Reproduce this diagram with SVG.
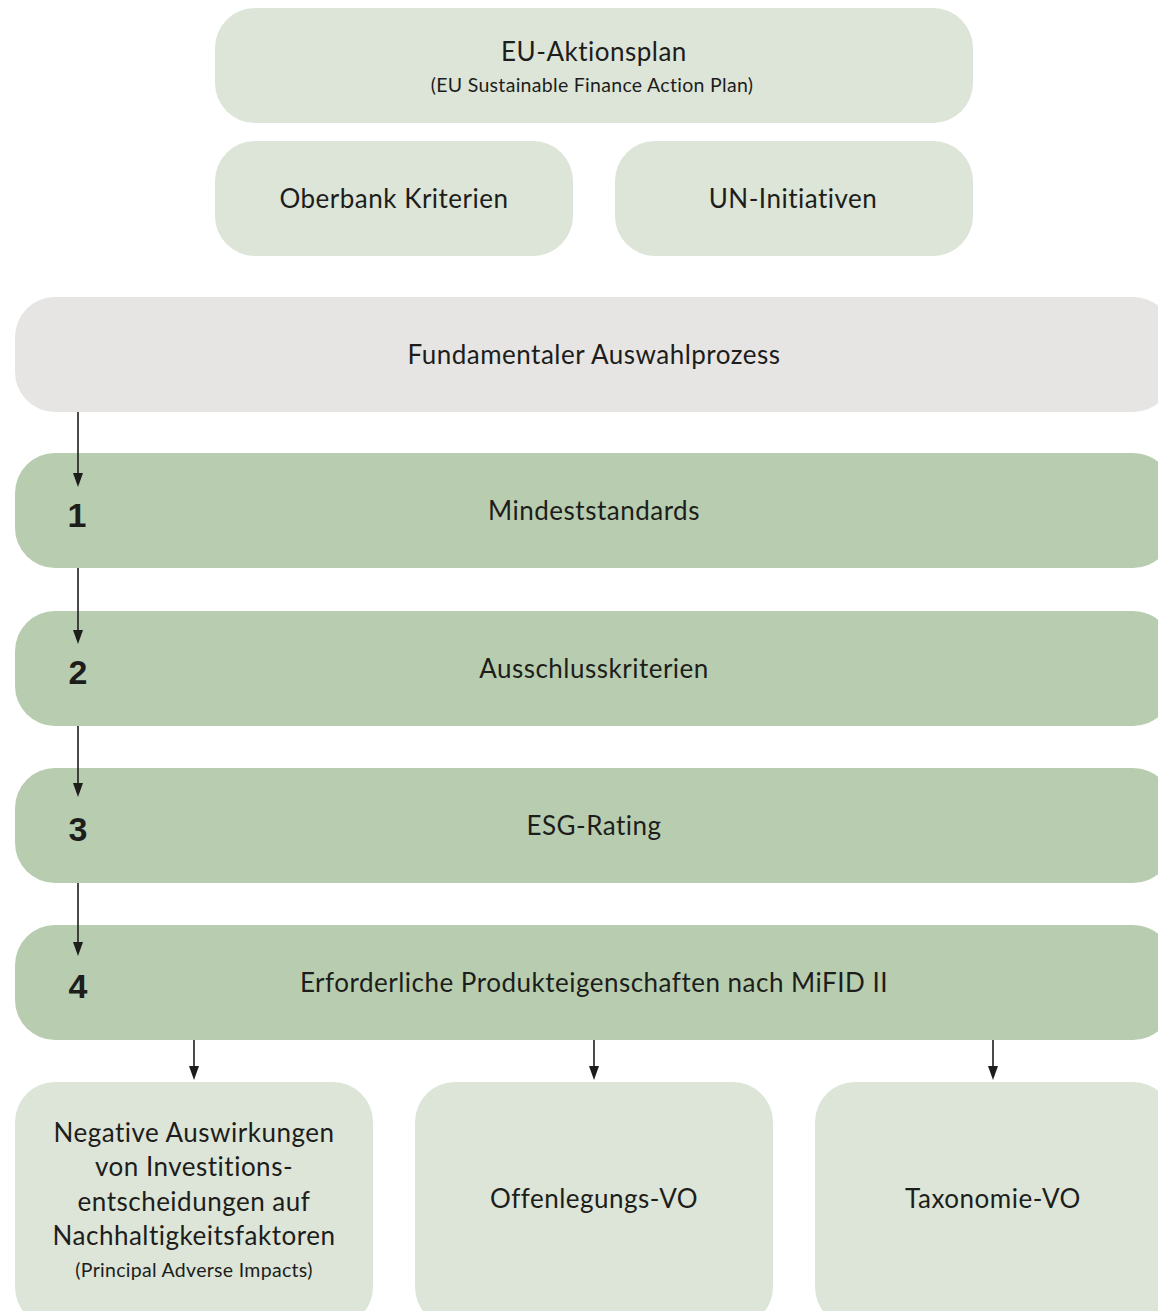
<svg xmlns="http://www.w3.org/2000/svg" width="1158" height="1311" viewBox="0 0 1158 1311">
<defs>
<style>
.lg{fill:#dce5d7}
.mg{fill:#b8cdb0}
.gr{fill:#e6e5e3}
text{font-family:Lato,"Open Sans","Liberation Sans",sans-serif;fill:#1d1d1b;text-anchor:middle;font-variant-ligatures:none}
.t{font-size:26px;letter-spacing:0.5px}
.s{font-size:19.5px;letter-spacing:0.3px}
.n{font-family:"Liberation Sans",Arial,sans-serif;font-weight:bold;font-size:34px;letter-spacing:0}
.c{stroke:#1d1d1b;stroke-width:1.6;fill:none}
.a{fill:#1d1d1b}
</style>
</defs>
<rect width="1158" height="1311" fill="#ffffff"/>
<g id="eu-aktionsplan"><rect class="lg" x="215" y="8" width="758" height="115" rx="40"/>
<text class="t" x="594" y="61">EU-Aktionsplan</text>
<text class="s" x="592" y="92">(EU Sustainable Finance Action Plan)</text></g>
<g id="oberbank"><rect class="lg" x="215" y="141" width="358" height="115" rx="40"/>
<text class="t" x="394" y="208">Oberbank Kriterien</text></g>
<g id="un"><rect class="lg" x="615" y="141" width="358" height="115" rx="40"/>
<text class="t" x="793" y="208">UN-Initiativen</text></g>
<g id="fundamental"><rect class="gr" x="15" y="297" width="1158" height="115" rx="40"/>
<text class="t" x="594" y="364">Fundamentaler Auswahlprozess</text></g>
<g id="step1"><rect class="mg" x="15" y="453" width="1158" height="115" rx="40"/>
<text class="n" x="77" y="527">1</text>
<text class="t" x="594" y="520">Mindeststandards</text></g>
<g id="step2"><rect class="mg" x="15" y="611" width="1158" height="115" rx="40"/>
<text class="n" x="78" y="684">2</text>
<text class="t" x="594" y="678">Ausschlusskriterien</text></g>
<g id="step3"><rect class="mg" x="15" y="768" width="1158" height="115" rx="40"/>
<text class="n" x="78" y="841">3</text>
<text class="t" x="594" y="835">ESG-Rating</text></g>
<g id="step4"><rect class="mg" x="15" y="925" width="1158" height="115" rx="40"/>
<text class="n" x="78" y="998">4</text>
<text class="t" x="594" y="992">Erforderliche Produkteigenschaften nach MiFID II</text></g>
<g id="pai"><rect class="lg" x="15" y="1082" width="358" height="245" rx="40"/>
<text class="t" x="194" y="1142">Negative Auswirkungen</text>
<text class="t" x="194" y="1176">von Investitions-</text>
<text class="t" x="194" y="1211">entscheidungen auf</text>
<text class="t" x="194" y="1245">Nachhaltigkeitsfaktoren</text>
<text class="s" x="194" y="1277">(Principal Adverse Impacts)</text></g>
<g id="offenlegung"><rect class="lg" x="415" y="1082" width="358" height="245" rx="40"/>
<text class="t" x="594" y="1208">Offenlegungs-VO</text></g>
<g id="taxonomie"><rect class="lg" x="815" y="1082" width="358" height="245" rx="40"/>
<text class="t" x="993" y="1208">Taxonomie-VO</text></g>
<g id="connectors">
<line class="c" x1="78" y1="412" x2="78" y2="474"/><path class="a" d="M73,473 L83,473 L78,487 Z"/>
<line class="c" x1="78" y1="568" x2="78" y2="631"/><path class="a" d="M73,630 L83,630 L78,644 Z"/>
<line class="c" x1="78" y1="726" x2="78" y2="784"/><path class="a" d="M73,783 L83,783 L78,797 Z"/>
<line class="c" x1="78" y1="883" x2="78" y2="943"/><path class="a" d="M73,942 L83,942 L78,956 Z"/>
<line class="c" x1="194" y1="1040" x2="194" y2="1067"/><path class="a" d="M189,1066 L199,1066 L194,1080 Z"/>
<line class="c" x1="594" y1="1040" x2="594" y2="1067"/><path class="a" d="M589,1066 L599,1066 L594,1080 Z"/>
<line class="c" x1="993" y1="1040" x2="993" y2="1067"/><path class="a" d="M988,1066 L998,1066 L993,1080 Z"/>
</g>
</svg>
